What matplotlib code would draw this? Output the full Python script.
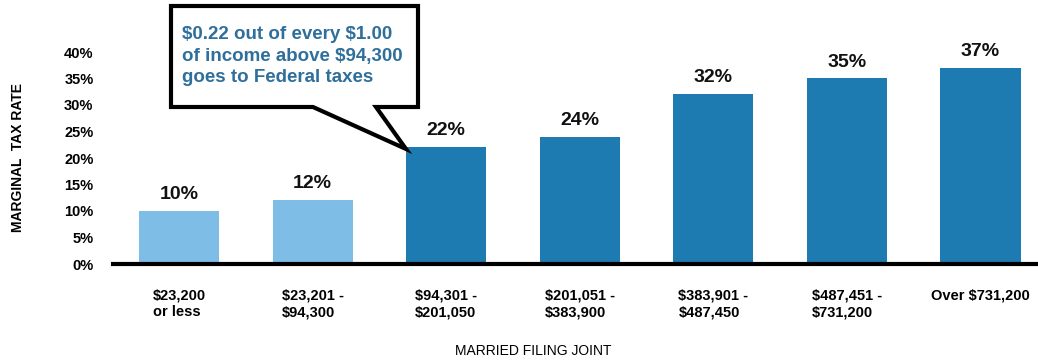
import numpy as np
import matplotlib.pyplot as plt
from matplotlib.patches import Polygon

brackets = ["\\$23,200\nor less", "\\$23,201 -\n\\$94,300", "\\$94,301 -\n\\$201,050",
            "\\$201,051 -\n\\$383,900", "\\$383,901 -\n\\$487,450", "\\$487,451 -\n\\$731,200",
            "Over \\$731,200\n"]
rates = [10, 12, 22, 24, 32, 35, 37]
ytick_vals = [0, 5, 10, 15, 20, 25, 30, 35, 40]
callout_text = "\\$0.22 out of every \\$1.00\nof income above \\$94,300\ngoes to Federal taxes"

light = "#7dbde6"
dark = "#1d7bb1"
colors = [light, light, dark, dark, dark, dark, dark]

plt.rcParams['font.family'] = ['Liberation Sans', 'DejaVu Sans']

W, H = 1038, 362
fig = plt.figure(figsize=(W / 100, H / 100), dpi=100, facecolor='w')
ax = fig.add_axes([113 / W, 1 - 264 / H, 1 - 113 / W, (264 - 52) / H])

x = np.arange(len(rates))
ax.bar(x, rates, width=0.6, color=colors, zorder=2)
for xi, r in zip(x, rates):
    ax.text(xi, r + 1.5, f"{r}%", ha='center', va='bottom', fontsize=14,
            fontweight='bold', color='#111111')

ax.set_xlim(-0.495, 6.43)
ax.set_ylim(0, 40)
ax.set_yticks(ytick_vals)
ax.set_yticklabels([f"{v}%" for v in ytick_vals], fontsize=10.5, fontweight='bold')
ax.tick_params(axis='y', length=0, pad=14)
ax.set_xticks(x)
ax.set_xticklabels(brackets, fontsize=10.5, fontweight='bold',
                   family=['Liberation Sans Narrow', 'Liberation Sans'],
                   multialignment='left')
ax.tick_params(axis='x', length=0, pad=18)
for s in ['top', 'right', 'left']:
    ax.spines[s].set_visible(False)
ax.spines['bottom'].set_linewidth(3)
ax.spines['bottom'].set_color('black')

fig.text(533 / W, 1 - 351 / H, "MARRIED FILING JOINT", ha='center', va='center',
         fontsize=10, family=['Liberation Sans Narrow', 'Liberation Sans'])
fig.text(18 / W, 1 - 158 / H, "MARGINAL  TAX RATE", ha='center', va='center',
         rotation=90, fontsize=10, fontweight='bold')

# callout box with pointer
pts = [(171, 6), (418, 6), (418, 107), (376, 107), (406, 149), (313, 107), (171, 107)]
poly = Polygon([(px / W, 1 - py / H) for px, py in pts], closed=True,
               transform=fig.transFigure, facecolor='white', edgecolor='black',
               linewidth=3, joinstyle='miter', zorder=5)
fig.patches.append(poly)
fig.text(182 / W, 1 - 56 / H, callout_text, ha='left', va='center', fontsize=13.5,
         fontweight='bold', color='#2f6f9b', linespacing=1.35, zorder=6)

fig.savefig("out.png", dpi=100)
